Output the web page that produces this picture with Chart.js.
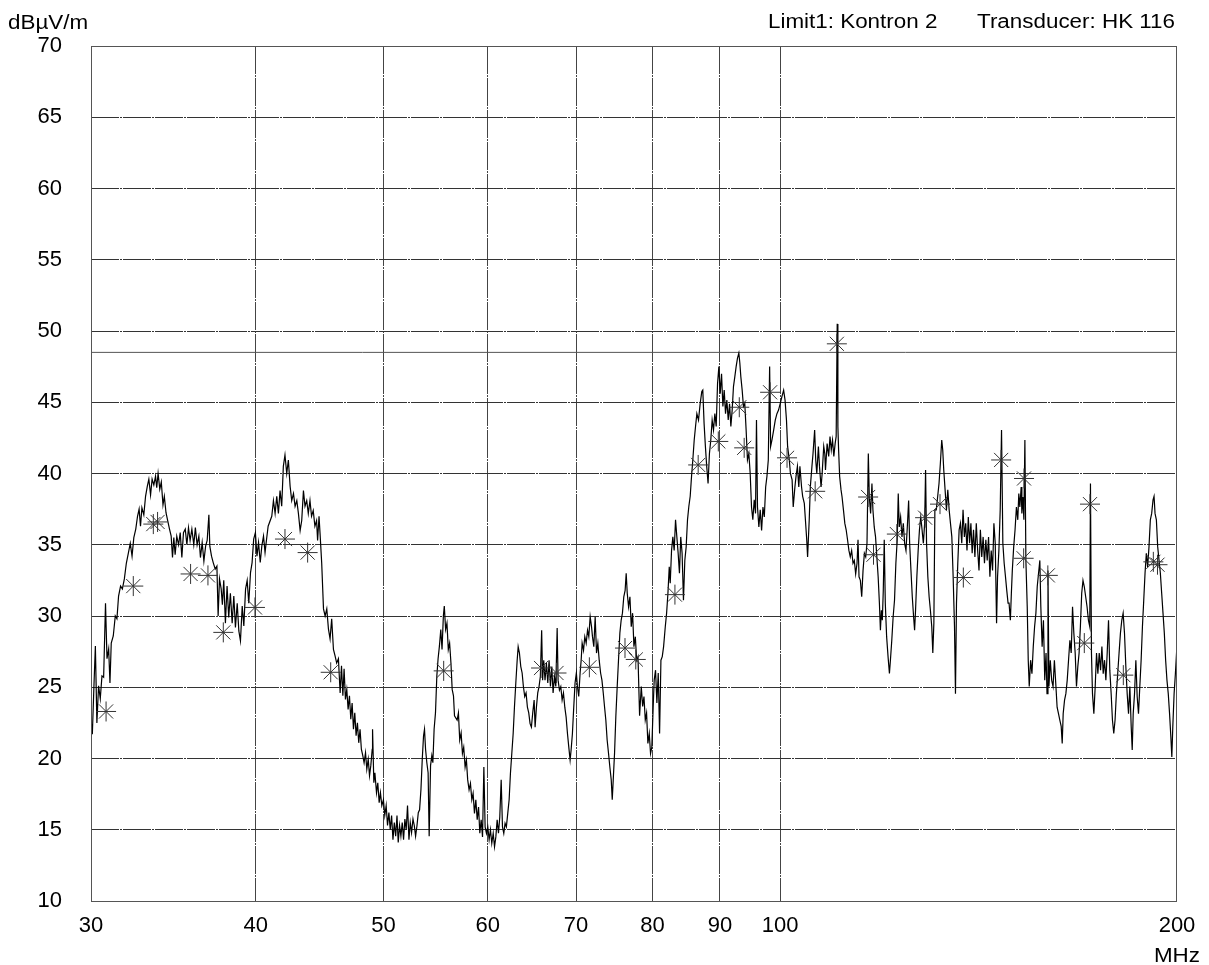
<!DOCTYPE html>
<html>
<head>
<meta charset="utf-8">
<title>EMI scan 30-200 MHz</title>
<script src="https://cdn.jsdelivr.net/npm/chart.js@4.4.1/dist/chart.umd.min.js"></script>
<style>
  html, body { margin: 0; padding: 0; background: #fff; }
  #wrap { width: 1209px; height: 965px; position: relative; }
</style>
</head>
<body>
<div id="wrap"><canvas id="scan"></canvas></div>
<script>
// axis ticks
const freqTicks = [30, 40, 50, 60, 70, 80, 90, 100, 200];
const levelTicks = [10, 15, 20, 25, 30, 35, 40, 45, 50, 55, 60, 65, 70];
const limitLevel = 48.5; // Limit1: Kontron 2

const trace30to41 = [[30.00,22.75],[30.07,21.7],[30.16,25.3],[30.23,27.9],[30.31,22.5],[30.40,25.1],[30.49,24.2],[30.58,25.8],[30.67,25.7],[30.77,30.9],[30.85,27.0],[30.94,27.7],[31.01,25.3],[31.08,28.1],[31.19,28.6],[31.30,30.0],[31.39,29.8],[31.48,31.4],[31.59,32.1],[31.69,31.9],[31.80,32.6],[31.91,33.7],[32.02,34.4],[32.13,35.1],[32.23,34.2],[32.33,35.5],[32.44,36.1],[32.54,37.0],[32.63,37.5],[32.71,36.3],[32.79,37.6],[32.90,37.1],[33.00,38.4],[33.10,39.1],[33.19,39.6],[33.29,38.5],[33.38,39.6],[33.48,39.2],[33.58,39.8],[33.65,39.0],[33.73,40.0],[33.83,38.9],[33.92,39.4],[34.02,37.8],[34.10,38.4],[34.20,37.25],[34.30,36.7],[34.41,36.1],[34.51,35.6],[34.59,34.1],[34.67,35.5],[34.75,34.3],[34.85,35.6],[34.96,35.0],[35.06,35.85],[35.16,34.1],[35.26,35.85],[35.37,36.1],[35.47,35.0],[35.57,36.2],[35.67,35.3],[35.78,36.1],[35.90,35.0],[36.00,36.2],[36.11,35.0],[36.22,35.6],[36.32,34.1],[36.43,35.15],[36.54,33.85],[36.65,34.9],[36.75,35.3],[36.86,37.1],[36.92,34.9],[37.03,34.2],[37.14,33.75],[37.27,33.3],[37.38,33.5],[37.46,30.0],[37.55,32.6],[37.66,31.9],[37.74,30.8],[37.83,32.5],[37.94,29.5],[38.05,32.1],[38.16,29.9],[38.27,31.6],[38.39,29.5],[38.50,31.4],[38.61,29.2],[38.73,30.9],[38.84,28.95],[38.95,28.25],[39.07,30.7],[39.18,29.3],[39.30,31.9],[39.41,32.5],[39.52,30.9],[39.64,33.05],[39.75,33.75],[39.86,35.4],[39.98,35.85],[40.09,34.2],[40.20,35.15],[40.32,33.75],[40.43,34.9],[40.55,35.6],[40.66,34.45],[40.77,35.4],[40.88,36.3]];

const trace41to45 = [[41.14,37.0],[41.26,38.1],[41.38,37.2],[41.50,38.4],[41.62,37.2],[41.74,38.8],[41.86,37.7],[41.98,40.5],[42.10,41.3],[42.23,40.0],[42.35,40.95],[42.48,39.1],[42.60,38.1],[42.73,38.6],[42.85,37.7],[42.98,38.1],[43.10,37.2],[43.23,36.0],[43.35,36.7],[43.48,38.8],[43.60,37.7],[43.73,38.1],[43.85,37.2],[43.98,38.1],[44.10,37.0],[44.23,37.4],[44.36,36.3],[44.49,36.7],[44.57,35.3],[44.68,37.0],[44.76,35.8]];

const trace45to57 = [[44.89,33.7],[45.03,30.5],[45.16,30.0],[45.29,30.5],[45.42,29.1],[45.55,28.4],[45.68,29.8],[45.82,27.65],[45.95,27.2],[46.08,26.7],[46.22,27.0],[46.36,24.6],[46.47,26.5],[46.58,24.4],[46.68,26.3],[46.79,24.15],[46.90,24.85],[47.01,23.45],[47.12,24.4],[47.23,22.75],[47.34,23.9],[47.45,22.05],[47.56,23.2],[47.67,21.6],[47.78,22.5],[47.89,21.1],[48.00,22.05],[48.11,20.65],[48.23,20.2],[48.34,19.7],[48.46,20.4],[48.57,19.25],[48.69,19.95],[48.80,18.8],[48.91,19.5],[49.03,20.65],[49.06,22.05],[49.17,18.3],[49.26,19.0],[49.40,17.6],[49.51,18.3],[49.63,16.9],[49.74,17.6],[49.86,16.7],[50.00,17.1],[50.12,16.0],[50.24,16.7],[50.36,15.3],[50.48,16.2],[50.60,15.0],[50.72,16.0],[50.84,14.3],[50.96,15.5],[51.08,14.55],[51.20,16.0],[51.31,14.1],[51.43,15.3],[51.55,14.55],[51.67,15.5],[51.79,14.3],[51.91,15.75],[52.03,15.0],[52.15,16.7],[52.28,14.3],[52.40,15.5],[52.52,14.8],[52.65,15.75],[52.77,15.3],[52.89,14.55],[53.02,15.3],[53.14,16.2],[53.26,16.4],[53.39,17.85],[53.51,19.95],[53.63,21.6],[53.72,22.05],[53.82,20.65],[53.94,19.7],[54.06,19.0],[54.16,14.55],[54.29,19.5],[54.41,20.2],[54.51,19.7],[54.63,22.05],[54.76,23.2],[54.89,25.8],[55.01,27.0],[55.14,27.9],[55.27,29.05],[55.39,27.65],[55.52,30.0],[55.61,30.7],[55.74,29.05],[55.87,29.5],[56.00,27.65],[56.13,28.1],[56.26,26.7],[56.38,24.85],[56.51,24.4],[56.61,23.0]];

const trace57to78 = [[56.87,22.7],[57.00,23.2],[57.13,21.3],[57.27,21.8],[57.40,20.35],[57.53,20.8],[57.67,19.4],[57.80,19.9],[57.93,18.5],[58.07,17.8],[58.21,18.25],[58.35,17.1],[58.48,17.55],[58.62,16.15],[58.76,17.1],[58.90,15.7],[59.04,16.6],[59.17,14.75],[59.31,15.7],[59.45,14.5],[59.59,19.4],[59.72,15.2],[59.86,14.75],[60.00,15.2],[60.14,14.3],[60.28,15.0],[60.42,14.05],[60.57,14.75],[60.71,13.8],[60.85,14.5],[60.99,15.7],[61.13,14.75],[61.27,15.9],[61.42,18.5],[61.56,15.2],[61.70,14.75],[61.84,15.45],[61.98,15.2],[62.13,16.15],[62.28,17.1],[62.42,18.95],[62.57,20.35],[62.72,21.75],[62.86,23.6],[63.01,25.3],[63.16,26.9],[63.27,27.85],[63.41,27.4],[63.56,26.45],[63.71,26.0],[63.85,25.05],[64.00,24.35],[64.15,24.6],[64.30,23.6],[64.45,23.2],[64.60,22.45],[64.75,22.2],[64.90,23.2],[65.06,24.1],[65.17,22.2],[65.32,23.6],[65.47,24.6],[65.62,25.05],[65.77,25.75],[65.92,29.0],[66.03,25.5],[66.16,26.9],[66.31,25.5],[66.47,26.7],[66.63,25.3],[66.78,26.9],[66.94,25.05],[67.10,26.45],[67.25,24.6],[67.41,25.75],[67.57,25.05],[67.73,29.15],[67.84,25.5],[68.00,24.8],[68.16,25.05],[68.32,24.1],[68.48,24.6],[68.64,23.6],[68.80,22.9],[68.96,21.75],[69.12,20.8],[69.28,19.9],[69.40,20.6],[69.56,21.75],[69.72,23.6],[69.88,25.3],[70.04,26.0],[70.17,25.05],[70.33,24.35],[70.50,26.0],[70.63,26.9],[70.75,28.1],[70.92,27.6],[71.08,28.55],[71.25,28.1],[71.42,29.0],[71.58,28.55],[71.75,29.95],[71.92,29.25],[72.04,28.55],[72.21,27.85],[72.38,29.95],[72.55,27.4],[72.72,28.1],[72.89,26.9],[73.07,26.0],[73.24,25.5],[73.41,24.6],[73.58,23.6],[73.74,22.7],[73.91,21.3],[74.09,20.35],[74.26,19.4],[74.44,18.5],[74.57,17.1],[74.70,18.5],[74.87,20.35],[75.04,22.95],[75.22,25.05],[75.39,26.9],[75.57,28.8],[75.74,29.7],[75.91,30.2],[76.09,31.35],[76.27,31.8],[76.41,33.0],[76.55,31.6],[76.73,30.65],[76.91,31.35],[77.09,29.25],[77.27,30.2],[77.45,27.85],[77.64,28.55],[77.82,26.9],[78.00,27.15],[78.22,23.0]];

const trace78to108 = [[78.45,25.05],[78.64,23.65],[78.82,24.35],[79.00,22.7],[79.18,23.2],[79.36,21.05],[79.55,21.75],[79.73,20.35],[79.91,20.8],[80.10,23.65],[80.24,25.5],[80.43,26.2],[80.62,23.9],[80.81,26.0],[81.00,21.75],[81.19,26.9],[81.38,27.15],[81.57,27.85],[81.81,29.25],[82.00,30.2],[82.19,31.6],[82.38,33.45],[82.52,32.3],[82.71,34.6],[82.90,35.55],[83.09,34.6],[83.29,36.75],[83.48,35.55],[83.67,34.4],[83.86,33.0],[84.05,35.55],[84.25,34.4],[84.45,31.1],[84.65,33.9],[84.85,34.85],[85.05,36.75],[85.25,37.7],[85.45,38.4],[85.65,39.8],[85.85,41.0],[86.05,42.35],[86.25,43.3],[86.45,44.2],[86.70,43.75],[86.95,44.9],[87.20,45.75],[87.35,45.85],[87.55,43.5],[87.75,41.9],[87.95,40.5],[88.16,39.3],[88.37,41.4],[88.58,42.35],[88.79,43.75],[89.00,43.05],[89.21,44.2],[89.42,43.3],[89.63,46.3],[89.84,47.5],[90.05,45.6],[90.26,47.0],[90.47,44.7],[90.68,45.85],[90.89,44.2],[91.10,45.15],[91.32,43.75],[91.53,44.9],[91.74,43.3],[91.95,44.45],[92.16,46.1],[92.38,46.8],[92.59,47.5],[92.81,48.1],[93.03,48.45],[93.19,47.75],[93.35,46.8],[93.57,45.85],[93.78,44.7],[94.00,44.9],[94.22,43.05],[94.44,40.95],[94.67,41.4],[94.89,40.0],[95.11,37.65],[95.33,36.75],[95.56,38.15],[95.78,37.2],[95.94,43.75],[96.11,37.65],[96.34,36.25],[96.57,37.45],[96.80,36.0],[97.03,37.65],[97.26,36.95],[97.49,39.05],[97.71,39.8],[97.94,40.95],[98.17,47.5],[98.34,41.9],[98.57,42.35],[98.86,43.05],[99.14,43.75],[99.43,44.2],[99.71,44.45],[100.0,44.9],[100.3,45.4],[100.6,45.85],[100.85,45.15],[101.1,43.75],[101.3,41.9],[101.6,40.95],[101.8,40.0],[102.1,39.55],[102.3,37.65],[102.6,39.05],[102.8,39.8],[103.05,40.5],[103.3,39.05],[103.5,40.5],[103.8,39.05],[104.0,38.4],[104.3,37.9],[104.5,36.75],[104.75,35.3],[104.9,34.15],[105.2,36.75],[105.4,39.05],[105.7,40.5],[105.9,41.4],[106.2,43.05],[106.4,40.95],[106.6,40.0],[106.9,41.9],[107.1,40.5],[107.4,39.05],[107.6,40.0],[107.9,41.9],[108.1,41.4]];

const trace108to149 = [[108.23,40.25],[108.54,42.1],[108.84,41.2],[109.09,42.6],[109.33,41.65],[109.57,42.35],[109.82,41.2],[110.07,42.1],[110.27,42.6],[110.47,50.5],[110.60,43.3],[110.74,41.65],[110.94,39.8],[111.21,38.85],[111.41,38.35],[111.68,37.45],[111.95,36.5],[112.21,36.05],[112.48,35.35],[112.75,34.6],[113.02,34.15],[113.29,34.6],[113.56,33.7],[113.82,33.9],[114.09,32.95],[114.36,33.7],[114.56,35.35],[114.76,32.75],[115.03,32.5],[115.30,31.35],[115.57,33.2],[115.84,34.4],[116.11,34.15],[116.37,35.1],[116.64,41.4],[116.84,38.35],[117.11,37.2],[117.38,39.3],[117.58,37.45],[117.85,36.25],[118.12,35.55],[118.39,34.15],[118.66,32.75],[118.92,30.9],[119.13,29.0],[119.33,30.4],[119.53,29.7],[119.73,31.8],[119.93,35.35],[120.15,30.9],[120.43,28.55],[120.73,27.15],[121.02,25.97],[121.23,26.9],[121.52,28.3],[121.81,29.95],[122.10,31.1],[122.39,33.7],[122.68,35.35],[122.90,38.6],[123.12,36.25],[123.41,36.95],[123.70,35.55],[123.99,36.5],[124.28,35.1],[124.57,34.6],[124.86,36.25],[125.15,38.1],[125.37,35.1],[125.66,33.2],[125.95,31.35],[126.24,29.95],[126.46,29.0],[126.67,30.4],[126.96,32.75],[127.25,34.6],[127.54,36.05],[127.83,36.95],[128.12,36.05],[128.41,35.1],[128.70,36.5],[128.91,40.25],[129.13,35.1],[129.42,32.75],[129.71,31.35],[130.00,30.4],[130.31,29.25],[130.55,27.4],[130.79,29.5],[131.02,37.45],[131.34,37.45],[131.65,38.35],[131.97,39.3],[132.28,40.7],[132.60,42.35],[132.83,41.65],[133.07,40.25],[133.38,38.85],[133.70,37.45],[134.01,38.85],[134.33,37.45],[134.64,36.5],[134.96,35.55],[135.27,32.75],[135.59,29.25],[135.82,24.55],[136.06,30.9],[136.37,33.7],[136.69,36.05],[137.00,36.5],[137.32,35.1],[137.63,37.45],[137.95,35.55],[138.27,36.5],[138.58,34.6],[138.90,36.95],[139.21,35.1],[139.53,36.5],[139.84,34.4],[140.17,36.05],[140.51,34.15],[140.85,36.5],[141.19,34.6],[141.52,33.2],[141.86,36.05],[142.20,34.15],[142.54,35.55],[142.88,33.7],[143.22,35.35],[143.56,33.9],[143.90,35.55],[144.24,32.75],[144.57,34.6],[144.91,33.2],[145.25,36.5],[145.59,35.1],[145.93,29.5],[146.18,32.75],[146.52,34.6],[146.86,37.45],[147.20,43.05],[147.54,35.1],[147.88,33.7],[148.22,32.75],[148.55,31.8],[148.89,30.9]];

const trace149to200 = [[149.15,30.9],[149.49,29.7],[149.75,31.6],[150.00,33.2],[150.36,34.85],[150.72,36.05],[151.08,37.65],[151.44,36.75],[151.71,38.6],[151.98,37.65],[152.34,39.05],[152.52,37.2],[152.79,38.35],[153.06,36.75],[153.33,42.35],[153.60,33.9],[153.96,30.65],[154.23,26.9],[154.50,25.05],[154.87,26.9],[155.23,25.95],[155.59,27.85],[155.95,29.25],[156.31,30.2],[156.67,32.05],[157.03,33.0],[157.39,33.9],[157.66,30.65],[158.02,27.85],[158.38,29.7],[158.74,25.5],[159.10,27.4],[159.37,24.55],[159.64,33.2],[159.91,25.05],[160.29,26.9],[160.67,25.5],[161.06,25.05],[161.44,26.9],[161.83,25.25],[162.21,23.6],[162.60,23.15],[162.98,22.7],[163.37,22.25],[163.66,21.05],[163.94,23.15],[164.33,24.1],[164.71,24.55],[165.10,25.5],[165.48,26.9],[165.87,28.3],[166.25,27.4],[166.64,30.65],[167.02,28.8],[167.41,27.4],[167.79,25.05],[168.18,26.45],[168.56,27.4],[168.94,29.25],[169.33,31.6],[169.71,32.5],[170.10,32.05],[170.51,31.35],[170.92,30.65],[171.33,29.7],[171.73,29.25],[171.94,39.3],[172.24,27.4],[172.55,24.55],[172.96,23.15],[173.37,25.05],[173.77,27.4],[174.18,25.95],[174.59,27.4],[175.00,26.2],[175.41,27.85],[175.81,25.95],[176.22,26.9],[176.63,25.5],[177.04,27.4],[177.45,29.7],[177.85,26.2],[178.27,24.55],[178.67,22.7],[179.08,21.75],[179.49,22.7],[179.90,24.55],[180.32,25.95],[180.75,27.4],[181.18,28.8],[181.61,29.7],[182.04,30.2],[182.47,28.8],[182.90,26.45],[183.33,24.55],[183.76,23.15],[184.19,25.05],[184.62,22.25],[184.95,20.6],[185.27,23.15],[185.70,24.55],[186.13,26.9],[186.56,24.35],[186.99,23.15],[187.42,25.05],[187.85,26.9],[188.28,29.25],[188.71,31.1],[189.14,33.0],[189.57,34.4],[190.00,33.45],[190.45,34.85],[190.90,36.75],[191.35,37.2],[191.80,38.15],[192.14,38.4],[192.47,37.2],[192.92,36.75],[193.37,34.85],[193.82,33.9],[194.27,33.0],[194.72,31.6],[195.17,30.2],[195.62,28.8],[196.07,26.9],[196.52,25.5],[196.97,24.55],[197.42,23.15],[197.87,21.5],[198.20,20.1],[198.54,22.25],[198.99,24.55],[199.44,25.95],[199.89,27.6]];

// peak markers (asterisks)
const peakMarkers = [[30.8,23.3],[32.3,32.1],[33.45,36.45],[33.7,36.6],[35.7,32.95],[36.8,32.85],[37.8,28.85],[39.95,30.6],[42.1,35.4],[43.8,34.45],[45.6,26.05],[55.55,26.15],[65.85,26.35],[67.65,26.0],[71.65,26.4],[76.25,27.75],[77.7,26.95],[83.2,31.5],[86.65,40.6],[89.75,42.25],[93.1,44.65],[93.9,41.8],[98.25,45.7],[101.2,41.1],[106.3,38.75],[110.4,49.1],[116.6,38.35],[117.7,34.3],[122.6,35.75],[128.8,36.9],[132.2,37.85],[137.7,32.7],[147.1,40.95],[153.1,39.65],[153.0,34.05],[159.6,32.85],[171.8,37.85],[170.1,28.1],[182.1,25.85],[191.9,33.8],[193.3,33.6]];

const FONT = "'Liberation Sans', Arial, sans-serif";
const toPoints = arr => arr.map(p => ({ x: p[0], y: p[1] }));

const tracePoints = toPoints([].concat(trace30to41, trace41to45, trace45to57, trace57to78, trace78to108, trace108to149, trace149to200));

// frame + header/footer texts (printed texts look slightly wide, so stretch them)
const frameAndLabels = {
  id: "frameAndLabels",
  afterDraw(chart) {
    const { ctx, chartArea: a } = chart;
    ctx.save();
    ctx.strokeStyle = "#555";
    ctx.lineWidth = 1;
    ctx.strokeRect(a.left + 0.5, a.top + 0.5, a.right - a.left - 1, a.bottom - a.top);

    ctx.fillStyle = "#000";
    ctx.font = "20px " + FONT;
    const stretched = (text, x, y, align) => {
      ctx.save();
      ctx.translate(x, y);
      ctx.scale(1.12, 1);
      ctx.textAlign = align;
      ctx.textBaseline = "alphabetic";
      ctx.fillText(text, 0, 0);
      ctx.restore();
    };
    stretched("dBµV/m", 8, 29, "left");
    stretched("Limit1: Kontron 2", 768, 28, "left");
    stretched("Transducer: HK 116", 1175, 28, "right");
    stretched("MHz", 1200, 962, "right");
    ctx.restore();
  }
};

// printed grid is almost solid, with tiny dash-dot breaks
const gridDash = [28, 1, 2, 1];

new Chart(document.getElementById("scan"), {
  data: {
    datasets: [
      {
        type: "line",
        label: "Limit",
        data: [{ x: 30, y: limitLevel }, { x: 200, y: limitLevel }],
        borderColor: "#555",
        borderWidth: 1,
        pointRadius: 0,
        order: 3
      },
      {
        type: "line",
        label: "Trace",
        data: tracePoints,
        borderColor: "#000",
        borderWidth: 1.2,
        pointRadius: 0,
        tension: 0,
        order: 2
      },
      {
        type: "scatter",
        label: "Peaks",
        data: toPoints(peakMarkers),
        pointStyle: "star",
        pointRadius: 10,
        borderColor: "#333",
        borderWidth: 1,
        backgroundColor: "rgba(0,0,0,0)",
        order: 1
      }
    ]
  },
  options: {
    responsive: true,
    maintainAspectRatio: false,
    animation: false,
    layout: { padding: { top: 46, right: 32, left: 0, bottom: 0 } },
    plugins: { legend: { display: false }, tooltip: { enabled: false } },
    scales: {
      x: {
        type: "logarithmic",
        min: 30,
        max: 200,
        afterBuildTicks: s => { s.ticks = freqTicks.map(v => ({ value: v })); },
        afterFit: s => { s.height = 64; },
        ticks: {
          autoSkip: false,
          maxRotation: 0,
          padding: 12,
          color: "#000",
          font: { family: FONT, size: 22 },
          callback: v => String(v)
        },
        grid: {
          drawTicks: false,
          lineWidth: 1,
          color: c => (c.tick && (c.tick.value === 30 || c.tick.value === 200)) ? "rgba(0,0,0,0)" : "#444"
        },
        border: { display: false, dash: gridDash }
      },
      y: {
        min: 10,
        max: 70,
        afterBuildTicks: s => { s.ticks = levelTicks.map(v => ({ value: v })); },
        afterFit: s => { s.width = 91; },
        ticks: {
          padding: 29,
          color: "#000",
          font: { family: FONT, size: 22 }
        },
        grid: {
          drawTicks: false,
          lineWidth: 1,
          color: c => (c.tick && (c.tick.value === 10 || c.tick.value === 70)) ? "rgba(0,0,0,0)" : "#333"
        },
        border: { display: false, dash: gridDash }
      }
    }
  },
  plugins: [frameAndLabels]
});
</script>
</body>
</html>
